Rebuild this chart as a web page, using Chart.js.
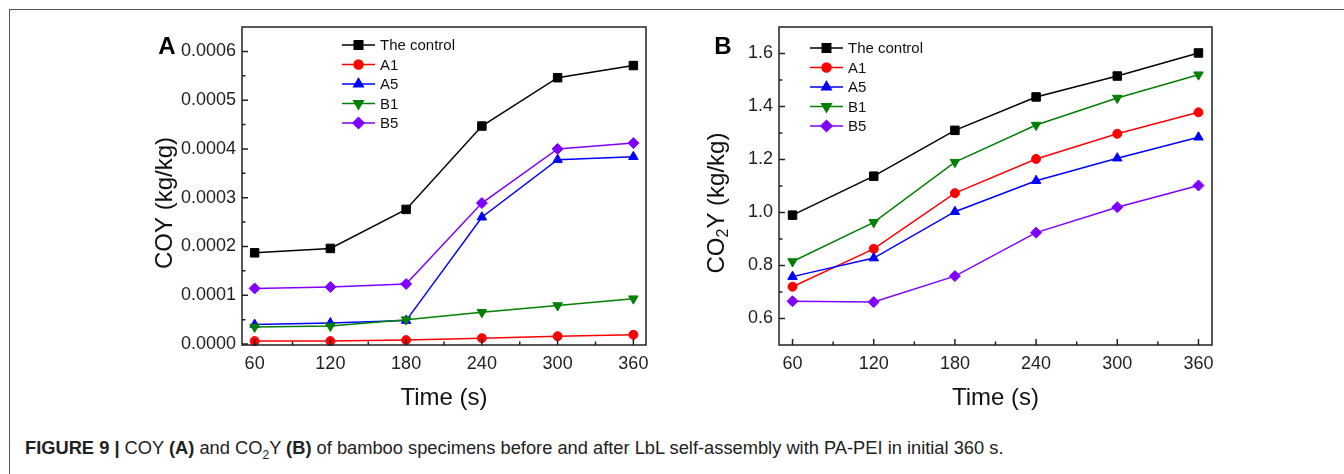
<!DOCTYPE html>
<html>
<head>
<meta charset="utf-8">
<script src="https://cdn.jsdelivr.net/npm/chart.js@4.4.0/dist/chart.umd.min.js"></script>
<style>
  body { margin: 0; width: 1344px; height: 474px; background: #fff; position: relative; overflow: hidden;
         font-family: "Liberation Sans", Arial, sans-serif; }
  #frame { position: absolute; left: 9px; top: 9px; right: -5px; bottom: -5px;
           border-top: 1.5px solid #555; border-left: 1.5px solid #555; }
  .panel { position: absolute; top: 0; width: 560px; height: 420px; }
  #caption { position: absolute; left: 25px; top: 437px; font-size: 18.3px; color: #222; white-space: nowrap; }
  #caption sub { font-size: 12px; }
</style>
</head>
<body>
<div id="frame"></div>
<div class="panel" style="left:140px"><canvas id="chartA" width="560" height="420"></canvas></div>
<div class="panel" style="left:700px"><canvas id="chartB" width="560" height="420"></canvas></div>
<div id="caption"><b>FIGURE 9 |</b> COY <b>(A)</b> and CO<sub>2</sub>Y <b>(B)</b> of bamboo specimens before and after LbL self-assembly with PA-PEI in initial 360 s.</div>

<script>
// data
const times = [60, 120, 180, 240, 300, 360];
const seriesNames = ['The control', 'A1', 'A5', 'B1', 'B5'];

const coyControl = [0.000187, 0.000196, 0.000276, 0.000447, 0.000546, 0.000571];
const coyA1      = [0.000006, 0.000006, 0.000008, 0.000012, 0.000016, 0.000019];
const coyA5      = [0.000040, 0.000043, 0.000048, 0.000260, 0.000378, 0.000384];
const coyB1      = [0.000035, 0.000037, 0.000050, 0.000065, 0.000079, 0.000093];
const coyB5      = [0.000114, 0.000117, 0.000123, 0.000289, 0.000400, 0.000412];

const co2yControl = [0.990, 1.137, 1.310, 1.436, 1.515, 1.602];
const co2yA1      = [0.720, 0.863, 1.073, 1.202, 1.297, 1.378];
const co2yA5      = [0.758, 0.828, 1.003, 1.120, 1.205, 1.284];
const co2yB1      = [0.815, 0.963, 1.190, 1.330, 1.432, 1.520];
const co2yB5      = [0.665, 0.662, 0.760, 0.924, 1.020, 1.102];

const timeTicks = [60, 120, 180, 240, 300, 360];
const timeMinor = [90, 150, 210, 270, 330];
const coyTicks = [0, 0.0001, 0.0002, 0.0003, 0.0004, 0.0005, 0.0006];
const coyMinor = [0.00005, 0.00015, 0.00025, 0.00035, 0.00045, 0.00055];
const co2yTicks = [0.6, 0.8, 1.0, 1.2, 1.4, 1.6];
const co2yMinor = [0.7, 0.9, 1.1, 1.3, 1.5];

// look
const FONT = '"Liberation Sans", Arial, sans-serif';
const colors = ['#000000', '#ff0000', '#0000ff', '#008000', '#8000ff'];
const markers = ['rect', 'circle', 'triangle', 'triangle', 'rectRot'];
const markerRot = [0, 0, 0, 180, 0];
const markerSize = [6, 4.5, 5.5, 5.5, 5.5];

const decorPlugin = {
  id: 'decor',
  afterDraw(chart, args, o) {
    const ctx = chart.ctx;
    const a = chart.chartArea;
    const xs = chart.scales.x, ys = chart.scales.y;
    ctx.save();
    // inward ticks
    ctx.strokeStyle = '#222';
    ctx.lineWidth = 1.5;
    ctx.beginPath();
    o.xMajor.forEach(v => { const p = xs.getPixelForValue(v); ctx.moveTo(p, a.bottom); ctx.lineTo(p, a.bottom - 6); });
    o.xMinor.forEach(v => { const p = xs.getPixelForValue(v); ctx.moveTo(p, a.bottom); ctx.lineTo(p, a.bottom - 3.5); });
    o.yMajor.forEach(v => { const p = ys.getPixelForValue(v); ctx.moveTo(a.left, p); ctx.lineTo(a.left + 6, p); });
    o.yMinor.forEach(v => { const p = ys.getPixelForValue(v); ctx.moveTo(a.left, p); ctx.lineTo(a.left + 3.5, p); });
    ctx.stroke();
    // frame
    ctx.strokeRect(a.left, a.top, a.right - a.left, a.bottom - a.top);

    // legend
    ctx.font = '15px ' + FONT;
    ctx.textBaseline = 'middle';
    ctx.textAlign = 'left';
    chart.data.datasets.forEach((ds, i) => {
      const y = a.top + o.legY + i * 19.5;
      const x0 = a.left + o.legX, x1 = x0 + 33;
      ctx.strokeStyle = ds.borderColor;
      ctx.fillStyle = ds.borderColor;
      ctx.lineWidth = 1.5;
      ctx.beginPath(); ctx.moveTo(x0, y); ctx.lineTo(x1, y); ctx.stroke();
      Chart.helpers.drawPoint(ctx, { pointStyle: ds.pointStyle, rotation: ds.pointRotation,
        radius: ds.pointRadius, borderWidth: 1 }, (x0 + x1) / 2, y);
      ctx.fillStyle = '#111';
      ctx.fillText(ds.label, x1 + 5, y + 1);
    });

    // panel letter
    ctx.fillStyle = '#000';
    ctx.font = 'bold 24px ' + FONT;
    ctx.textAlign = 'center';
    ctx.fillText(o.letter, o.letterX, 47);

    // y title (rotated, with optional subscript)
    ctx.translate(o.titleX, 203);
    ctx.rotate(-Math.PI / 2);
    ctx.fillStyle = '#111';
    ctx.textAlign = 'left';
    ctx.textBaseline = 'middle';
    const big = '24px ' + FONT, small = '16px ' + FONT;
    let total = 0;
    o.title.forEach(p => { ctx.font = p.sub ? small : big; total += ctx.measureText(p.t).width; });
    let x = -total / 2;
    o.title.forEach(p => {
      ctx.font = p.sub ? small : big;
      ctx.fillText(p.t, x, p.sub ? 7 : 0);
      x += ctx.measureText(p.t).width;
    });
    ctx.restore();
  }
};

function makeChart(id, series, cfg) {
  const datasets = series.map((vals, i) => ({
    label: seriesNames[i],
    data: times.map((t, k) => ({ x: t, y: vals[k] })),
    borderColor: colors[i],
    backgroundColor: colors[i],
    borderWidth: 1.5,
    pointStyle: markers[i],
    pointRotation: markerRot[i],
    pointRadius: markerSize[i],
    pointBorderWidth: 1,
    tension: 0,
    clip: false,
    order: series.length - i
  }));
  return new Chart(document.getElementById(id), {
    type: 'line',
    data: { datasets },
    plugins: [decorPlugin],
    options: {
      responsive: false,
      animation: false,
      layout: { padding: { top: 27, right: cfg.padRight, left: 0, bottom: 0 } },
      plugins: {
        legend: { display: false },
        tooltip: { enabled: false },
        decor: cfg.decor
      },
      scales: {
        x: {
          type: 'linear', min: 50, max: 370,
          grid: { display: false, drawTicks: false },
          border: { display: false },
          afterBuildTicks: s => { s.ticks = timeTicks.map(v => ({ value: v })); },
          afterFit: s => { s.height = 75; },
          ticks: { font: { size: 18, family: FONT }, color: '#222', padding: 8, maxRotation: 0 },
          title: { display: true, text: 'Time (s)', color: '#111',
                   font: { size: 24, family: FONT }, padding: { top: 0, bottom: 7 } }
        },
        y: {
          min: cfg.yMin, max: cfg.yMax,
          grid: { display: false, drawTicks: false },
          border: { display: false },
          afterBuildTicks: s => { s.ticks = cfg.yTicks.map(v => ({ value: v })); },
          afterFit: s => { s.width = cfg.yWidth; },
          ticks: { font: { size: 18, family: FONT }, color: '#222', padding: 6,
                   callback: v => v.toFixed(cfg.digits) }
        }
      }
    }
  });
}

makeChart('chartA', [coyControl, coyA1, coyA5, coyB1, coyB5], {
  padRight: 54, yWidth: 102, yMin: -0.000002, yMax: 0.00065, yTicks: coyTicks, digits: 4,
  decor: { xMajor: timeTicks, xMinor: timeMinor, yMajor: coyTicks, yMinor: coyMinor,
           legX: 100, legY: 18, letter: 'A', letterX: 27, titleX: 25,
           title: [{ t: 'COY (kg/kg)' }] }
});

makeChart('chartB', [co2yControl, co2yA1, co2yA5, co2yB1, co2yB5], {
  padRight: 48, yWidth: 79, yMin: 0.5, yMax: 1.7, yTicks: co2yTicks, digits: 1,
  decor: { xMajor: timeTicks, xMinor: timeMinor, yMajor: co2yTicks, yMinor: co2yMinor,
           legX: 31, legY: 21, letter: 'B', letterX: 23, titleX: 17,
           title: [{ t: 'CO' }, { t: '2', sub: true }, { t: 'Y (kg/kg)' }] }
});
</script>
</body>
</html>
